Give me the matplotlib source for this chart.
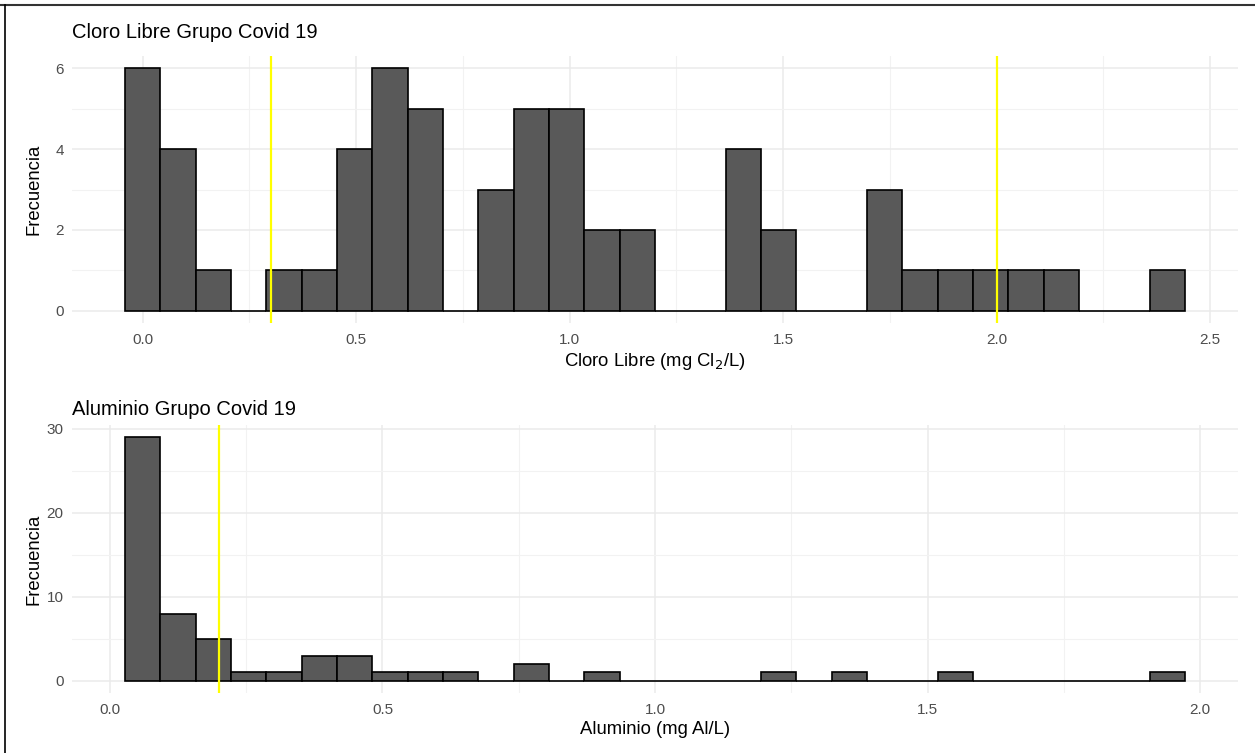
import matplotlib
matplotlib.use("Agg")
import matplotlib.pyplot as plt
import numpy as np
from matplotlib.ticker import MultipleLocator

plt.rcParams['font.family'] = ['Liberation Sans', 'DejaVu Sans']

# ---- Data ----
cloro_title = "Cloro Libre Grupo Covid 19"
cloro_xlabel = "Cloro Libre (mg Cl$_2$/L)"
cloro_min, cloro_max = 0.0, 2.40          # data range -> 30 bins centred on min/max
cloro_counts = [6, 4, 1, 0, 1, 1, 4, 6, 5, 0, 3, 5, 5, 2, 2, 0, 0, 4, 2, 0,
                0, 3, 1, 1, 1, 1, 1, 0, 0, 1]
cloro_limits = [0.3, 2.0]
cloro_xticks = [0.0, 0.5, 1.0, 1.5, 2.0, 2.5]
cloro_yticks = [0, 2, 4, 6]

alu_title = "Aluminio Grupo Covid 19"
alu_xlabel = "Aluminio (mg Al/L)"
alu_min, alu_max = 0.06, 1.94
alu_counts = [29, 8, 5, 1, 1, 3, 3, 1, 1, 1, 0, 2, 0, 1, 0, 0, 0, 0, 1, 0,
              1, 0, 0, 1, 0, 0, 0, 0, 0, 1]
alu_limits = [0.2]
alu_xticks = [0.0, 0.5, 1.0, 1.5, 2.0]
alu_yticks = [0, 10, 20, 30]

ylabel = "Frecuencia"

W, H = 1255, 753
fig = plt.figure(figsize=(W / 100, H / 100), dpi=100)
fig.patch.set_facecolor('white')


def panel(rect, vmin, vmax, counts, limits, xticks, yticks, title, xlabel,
          title_pad):
    ax = fig.add_axes(rect)
    n = len(counts)
    w = (vmax - vmin) / (n - 1)
    edges = vmin - w / 2 + w * np.arange(n)
    ax.bar(edges, counts, width=w, align='edge', color='#595959',
           edgecolor='black', linewidth=1.2, zorder=3)
    lo, hi = edges[0], edges[-1] + w
    pad = (hi - lo) * 0.05
    ax.set_xlim(lo - pad, hi + pad)
    ymax = max(counts)
    ax.set_ylim(-0.05 * ymax, ymax * 1.05)
    for v in limits:
        ax.axvline(v, color='#FFFF00', linewidth=1.6, zorder=4)
    ax.set_xticks(xticks)
    ax.set_xticklabels([f"{t:.1f}" for t in xticks])
    ax.set_yticks(yticks)
    ystep = yticks[1] - yticks[0]
    ax.yaxis.set_minor_locator(MultipleLocator(ystep / 2))
    ax.xaxis.set_minor_locator(MultipleLocator((xticks[1] - xticks[0]) / 2))
    ax.grid(True, which='major', color='#EBEBEB', linewidth=1.1, zorder=0)
    ax.grid(True, which='minor', color='#F2F2F2', linewidth=0.8, zorder=0)
    for s in ax.spines.values():
        s.set_visible(False)
    ax.tick_params(which='both', length=0, labelsize=11, labelcolor='#4D4D4D')
    ax.tick_params(axis='x', pad=7)
    ax.tick_params(axis='y', pad=6)
    ax.set_xlabel(xlabel, fontsize=13.3, color='black', labelpad=3)
    ax.set_ylabel(ylabel, fontsize=13.3, color='black')
    # place y-axis title at a fixed pixel position
    x_ax = (43 - rect[0] * W) / (rect[2] * W)
    ax.yaxis.set_label_coords(x_ax, 0.5)
    ax.set_title(title, loc='left', fontsize=14.5, color='black',
                 pad=title_pad)
    ax.set_axisbelow(True)
    return ax


panel([72 / W, 1 - 323 / H, (1238 - 72) / W, (323 - 56) / H],
      cloro_min, cloro_max, cloro_counts, cloro_limits, cloro_xticks,
      cloro_yticks, cloro_title, cloro_xlabel, 13)
panel([72 / W, 1 - 693 / H, (1238 - 72) / W, (693 - 425) / H],
      alu_min, alu_max, alu_counts, alu_limits, alu_xticks,
      alu_yticks, alu_title, alu_xlabel, 7.5)

# screenshot frame (top and left edges)
fig.add_artist(plt.Line2D([0, 1], [1 - 5 / H, 1 - 5 / H], color='#333333',
                          linewidth=1.5, transform=fig.transFigure))
fig.add_artist(plt.Line2D([5 / W, 5 / W], [0, 1 - 5 / H], color='black',
                          linewidth=1.2, transform=fig.transFigure))

fig.savefig("out.png", dpi=100, facecolor='white')
